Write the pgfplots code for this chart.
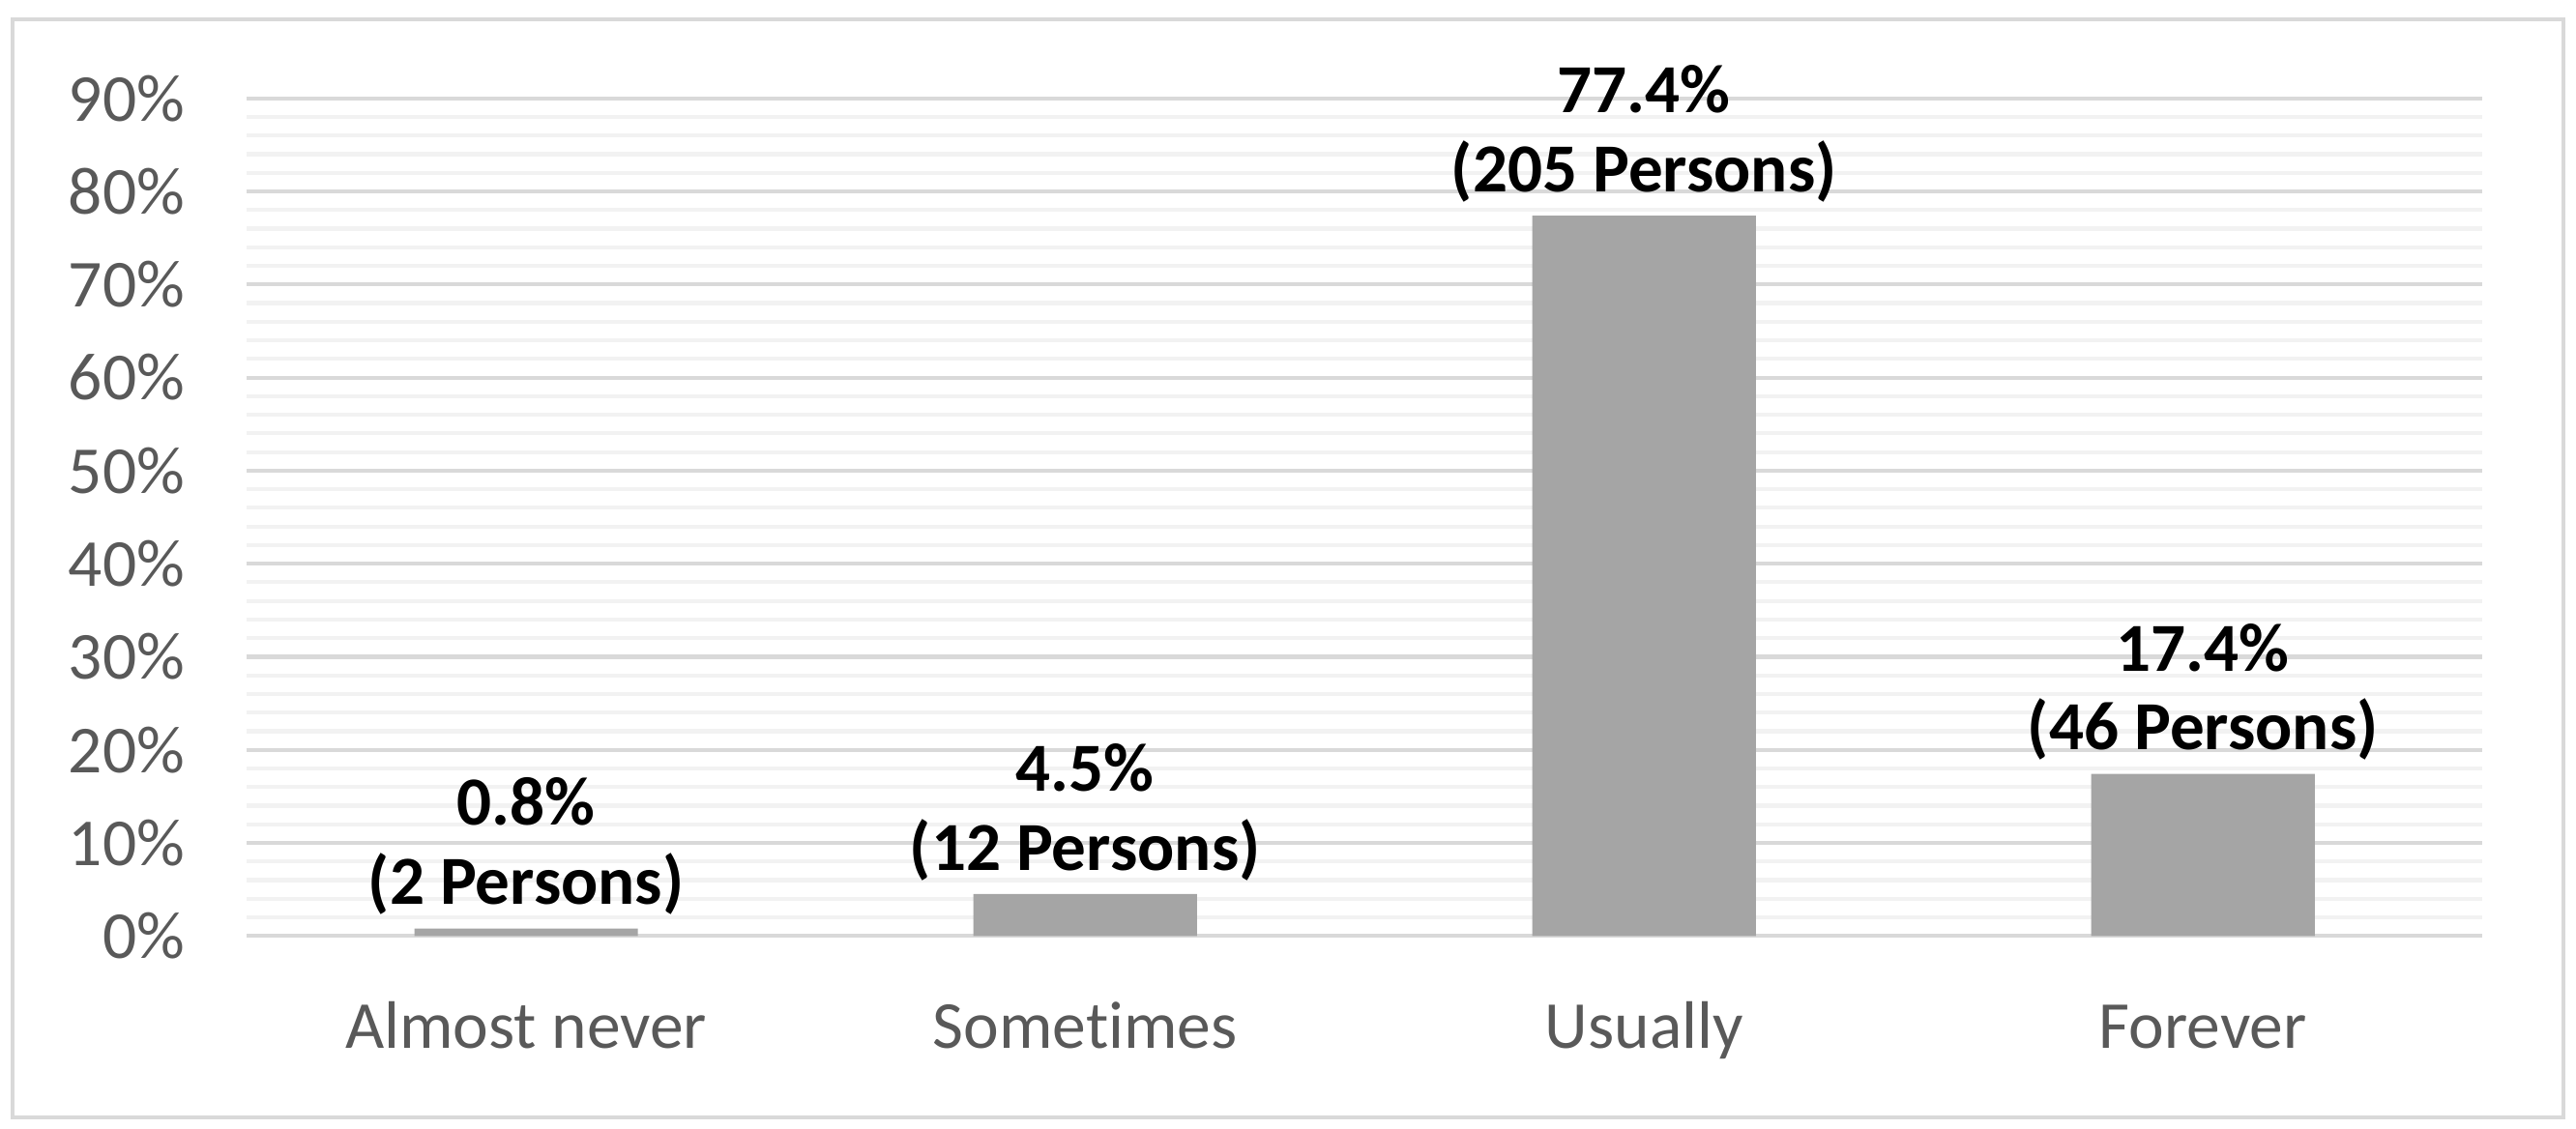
\documentclass[border=0pt]{standalone}
\usepackage{pgfplots}
\pgfplotsset{compat=1.18}
\usepackage{fontspec}
\setmainfont{Carlito}[Ligatures=NoCommon]
\definecolor{barGray}{HTML}{A5A5A5}
\definecolor{majGrid}{HTML}{D9D9D9}
\definecolor{minGrid}{HTML}{F2F2F2}
\definecolor{tickTxt}{HTML}{595959}
\begin{document}
\begin{tikzpicture}
\useasboundingbox (-45.9pt,-35.8pt) rectangle (433.4pt,174.2pt);
\draw[majGrid, line width=0.7pt] (-43.5pt,-33.7pt) rectangle (431pt,170.6pt);
\begin{axis}[
    at={(0,0)}, anchor=south west,
    scale only axis,
    width=416pt,
    height=155.9pt,
    ybar,
    bar width=0.4,
    xmin=-0.5, xmax=3.5,
    ymin=0, ymax=90,
    xtick={0,1,2,3},
    xticklabels={Almost never, Sometimes, Usually, Forever},
    ytick={0,10,...,90},
    minor y tick num=4,
    ymajorgrids, yminorgrids,
    major grid style={draw=majGrid, line width=0.75pt},
    minor grid style={draw=minGrid, line width=0.75pt},
    axis line style={draw=none},
    major tick length=0, minor tick length=0,
    /pgf/number format/assume math mode=true,
    yticklabel={\pgfmathprintnumber{\tick}\%},
    tick label style={font=\fontsize{12.5}{14}\selectfont, text=tickTxt},
    yticklabel style={anchor=east, xshift=-8pt},
    xticklabel style={anchor=base, yshift=-21pt},
    clip=false,
    point meta=explicit symbolic,
    nodes near coords,
    nodes near coords style={align=center, font=\fontsize{12.8}{14.7}\selectfont\bfseries, text=black, anchor=south, yshift=-1pt},
]
\addplot[fill=barGray, draw=none] coordinates {
    (0, 0.8)  [0.8\%\\(2 Persons)]
    (1, 4.5)  [4.5\%\\(12 Persons)]
    (2, 77.4) [77.4\%\\(205 Persons)]
    (3, 17.4) [17.4\%\\(46 Persons)]
};
\end{axis}
\end{tikzpicture}
\end{document}
